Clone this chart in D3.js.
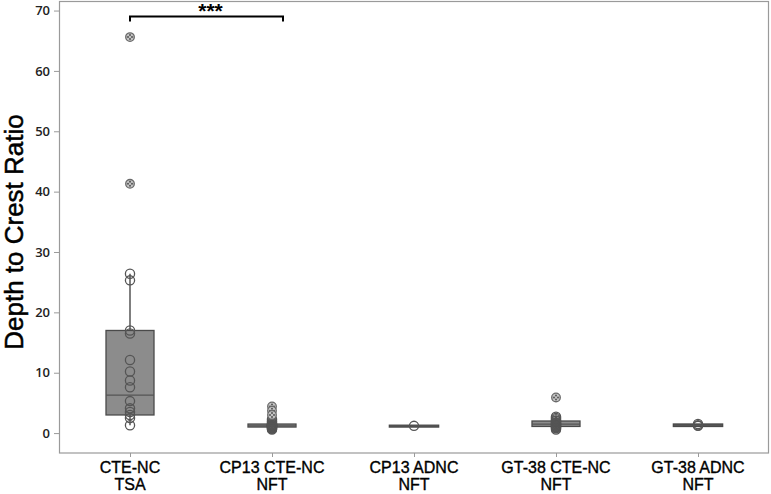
<!DOCTYPE html>
<html>
<head>
<meta charset="utf-8">
<script src="https://cdn.jsdelivr.net/npm/d3@7"></script>
<style>
  body { margin: 0; background: #fff; }
  svg { display: block; }
</style>
</head>
<body>
<div id="chart"></div>
<script>
const w = 771;
const h = 494;

// categories (two text lines each)
const groups = ['CTE-NC|TSA', 'CP13 CTE-NC|NFT', 'CP13 ADNC|NFT', 'GT-38 CTE-NC|NFT', 'GT-38 ADNC|NFT'];

// box stats per group: [whiskerLow, q1, median, q3, whiskerHigh]
const boxStats = [
  [1.3, 3.0, 6.3, 17.0, 26.4],
  [0.6, 1.0, 1.2, 1.5, 2.3],
  [1.2, 1.2, 1.2, 1.2, 1.2],
  [0.6, 1.1, 1.5, 2.0, 2.7],
  [1.2, 1.2, 1.3, 1.4, 1.5]
];

// individual observations (open circles)
const points = [
  [26.4, 25.3, 17.0, 16.5, 12.1, 10.2, 8.7, 7.6, 5.3, 4.1, 3.5, 3.0, 2.5, 1.3],
  [0.6, 0.7, 0.8, 0.9, 1.0, 1.0, 1.1, 1.1, 1.2, 1.2, 1.3, 1.3, 1.4, 1.5, 1.6, 1.8, 2.0, 2.3],
  [1.2],
  [0.6, 0.8, 0.9, 1.0, 1.1, 1.2, 1.3, 1.4, 1.5, 1.6, 1.7, 1.8, 2.0, 2.1, 2.3, 2.5, 2.7],
  [1.2, 1.3, 1.5]
];

// outliers (circled-asterisk symbols)
const outliers = [
  [65.6, 41.3],
  [4.4, 3.7, 3.0],
  [],
  [5.9],
  []
];

const yTicks = [0, 10, 20, 30, 40, 50, 60, 70];
const yLabel = 'Depth to Crest Ratio';
const sigLabel = '***';
const sigLevel = 69.0;

const m = {left: 59, right: 2, top: 1.5, bottom: 41};

const svg = d3.select('#chart').append('svg')
  .attr('width', w)
  .attr('height', h);

const x = d3.scalePoint()
  .domain(groups)
  .range([m.left, w - m.right])
  .padding(0.5);

const y = d3.scaleLinear()
  .domain([-3.3, 71.5])
  .range([h - m.bottom, m.top]);

const boxW = 48;

// frame
svg.append('rect')
  .attr('x', m.left + 0.5)
  .attr('y', m.top)
  .attr('width', w - m.right - m.left - 1)
  .attr('height', h - m.bottom - m.top)
  .attr('fill', 'none')
  .attr('stroke', '#9a9a9a')
  .attr('stroke-width', 1.2);

// y axis
const yAxis = svg.append('g')
  .attr('transform', `translate(${m.left},0)`)
  .call(d3.axisLeft(y).tickValues(yTicks).tickSize(5).tickPadding(4));
yAxis.select('.domain').remove();
yAxis.selectAll('line').attr('stroke', '#9a9a9a');
yAxis.selectAll('text')
  .attr('fill', '#222')
  .style('font-family', '"Open Sans", sans-serif')
  .style('font-size', '13px')
  .style('font-weight', '600');

// x axis
const xAxis = svg.append('g')
  .attr('transform', `translate(0,${h - m.bottom})`)
  .call(d3.axisBottom(x).tickSize(4).tickFormat(''));
xAxis.select('.domain').remove();
xAxis.selectAll('line').attr('stroke', '#9a9a9a');

const xLab = svg.append('g').selectAll('text')
  .data(groups)
  .enter()
  .append('text')
  .attr('text-anchor', 'middle')
  .attr('x', d => x(d))
  .attr('y', 473)
  .style('font-family', '"Liberation Sans", Arial, sans-serif')
  .style('font-size', '16px')
  .attr('fill', '#000')
  .attr('stroke', '#000')
  .attr('stroke-width', 0.35);
xLab.append('tspan').attr('x', d => x(d)).text(d => d.split('|')[0]);
xLab.append('tspan').attr('x', d => x(d)).attr('dy', 17).text(d => d.split('|')[1]);

// y title
svg.append('text')
  .attr('transform', `translate(23,232) rotate(-90)`)
  .attr('text-anchor', 'middle')
  .style('font-family', '"Liberation Sans", Arial, sans-serif')
  .style('font-size', '26px')
  .attr('fill', '#000')
  .attr('stroke', '#000')
  .attr('stroke-width', 0.5)
  .text(yLabel);

// boxes
const box = svg.append('g').selectAll('g')
  .data(groups)
  .enter()
  .append('g');

box.append('line')
  .attr('x1', d => x(d)).attr('x2', d => x(d))
  .attr('y1', (d, i) => y(boxStats[i][0]))
  .attr('y2', (d, i) => y(boxStats[i][4]))
  .attr('stroke', '#555').attr('stroke-width', 1.5);

box.append('rect')
  .attr('x', d => x(d) - boxW / 2)
  .attr('width', boxW)
  .attr('y', (d, i) => y(boxStats[i][3]))
  .attr('height', (d, i) => Math.max(0.6, y(boxStats[i][1]) - y(boxStats[i][3])))
  .attr('fill', '#8c8c8c')
  .attr('stroke', '#4a4a4a')
  .attr('stroke-width', (d, i) => boxStats[i][3] - boxStats[i][1] < 0.25 ? 2.6 : 1.3);

box.append('line')
  .attr('x1', d => x(d) - boxW / 2).attr('x2', d => x(d) + boxW / 2)
  .attr('y1', (d, i) => y(boxStats[i][2]))
  .attr('y2', (d, i) => y(boxStats[i][2]))
  .attr('stroke', '#555').attr('stroke-width', 1.3);

// points
box.selectAll('circle.pt')
  .data((d, i) => points[i].map(v => ({g: d, v: v})))
  .enter()
  .append('circle')
  .attr('class', 'pt')
  .attr('cx', d => x(d.g))
  .attr('cy', d => y(d.v))
  .attr('r', 4.6)
  .attr('fill', 'none')
  .attr('stroke', '#555')
  .attr('stroke-width', 1.3);

// outliers
const out = box.selectAll('g.out')
  .data((d, i) => outliers[i].map(v => ({g: d, v: v})))
  .enter()
  .append('g')
  .attr('class', 'out')
  .attr('transform', d => `translate(${x(d.g)},${y(d.v)})`);
out.append('circle')
  .attr('r', 4.3)
  .attr('fill', '#c4c4c4')
  .attr('stroke', '#6a6a6a')
  .attr('stroke-width', 1.3);
out.selectAll('circle.dot')
  .data([[0, -2], [2, 0], [0, 2], [-2, 0]])
  .enter()
  .append('circle')
  .attr('cx', d => d[0]).attr('cy', d => d[1])
  .attr('r', 1)
  .attr('fill', '#555');

// significance bracket
const bx1 = x(groups[0]);
const bx2 = x(groups[1]) + 11;
const by = y(sigLevel);
svg.append('path')
  .attr('d', `M${bx1},${by + 5}V${by}H${bx2}V${by + 5}`)
  .attr('fill', 'none')
  .attr('stroke', '#000')
  .attr('stroke-width', 2);
svg.append('text')
  .attr('x', (bx1 + bx2) / 2 + 4)
  .attr('y', by + 1)
  .attr('text-anchor', 'middle')
  .style('font-family', '"Liberation Sans", Arial, sans-serif')
  .style('font-size', '21px')
  .style('font-weight', 'bold')
  .text(sigLabel);
</script>
</body>
</html>
